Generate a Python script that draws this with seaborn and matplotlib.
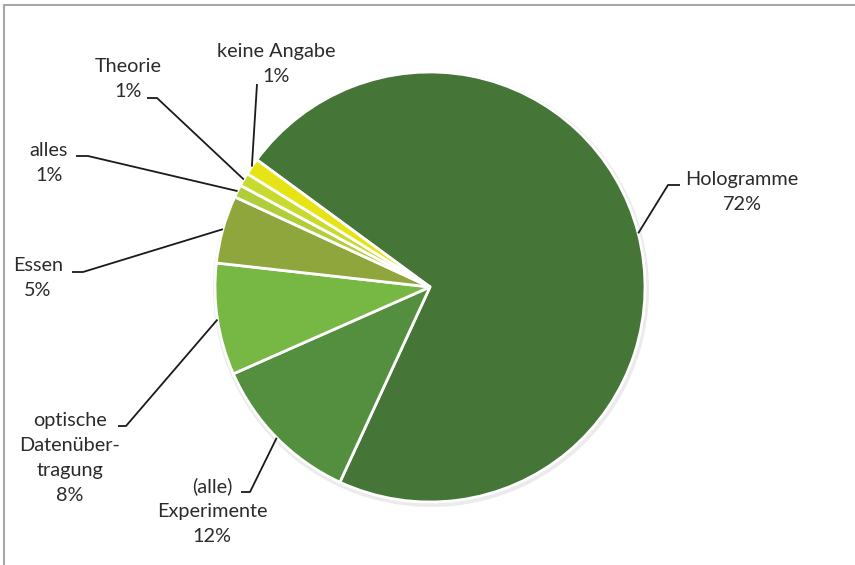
import numpy as np
import matplotlib.pyplot as plt
import seaborn as sns
from matplotlib.lines import Line2D
from matplotlib.patches import Circle

# Data (shares in percent, clockwise from Hologramme)
categories = ["Hologramme", "(alle)\nExperimente", "optische\nDatenüber-\ntragung",
              "Essen", "alles", "Theorie", "keine Angabe"]
shares = [71.8, 11.5, 8.4, 5.1, 0.95, 1.0, 1.25]
colors = ["#467538", "#548f3f", "#76b843", "#8ea63c", "#b2cd3a", "#c8da2e", "#e6e414"]

sns.set_theme(style="white")
plt.rcParams["font.family"] = ["Lato", "DejaVu Sans"]

W, H = 855, 565
CX, CY, R = 430, 287, 215  # pie centre / radius in pixels (y from top)

fig = plt.figure(figsize=(W / 100, H / 100), dpi=100)
ax = fig.add_axes([0, 0, 1, 1])

# soft halo behind the pie
ax.add_patch(Circle((CX + 1, H - CY - 2), R + 3, color="black", alpha=0.08, lw=0, zorder=0))

wedges, _ = ax.pie(shares, colors=colors, startangle=143.7, counterclock=False,
                   center=(CX, H - CY), radius=R,
                   wedgeprops=dict(edgecolor="white", linewidth=2))
ax.set_xlim(0, W)
ax.set_ylim(0, H)
ax.set_aspect("equal")
ax.axis("off")

# label layout in pixels (y from top): text centre, elbow, end of horizontal tick
layout = [
    ((742, 192), (668, 185), (680, 185)),
    ((212, 511), (250, 492), (241, 492)),
    ((70, 458), (126, 426), (118, 426)),
    ((38, 278), (83, 272), (72, 272)),
    ((49, 163), (88, 156), (76, 156)),
    ((128, 79), (157, 98), (147, 98)),
    ((276, 64), (257, 84), None),
]

for w, cat, val, (txt, elbow, end) in zip(wedges, categories, shares, layout):
    mid = np.deg2rad((w.theta1 + w.theta2) / 2)
    ax0 = CX + R * np.cos(mid)
    ay0 = (H - CY) + R * np.sin(mid)
    xs = [ax0, elbow[0]]
    ys = [ay0, H - elbow[1]]
    if end is not None:
        xs.append(end[0])
        ys.append(H - end[1])
    ax.plot(xs, ys, color="#1a1a1a", lw=1.3, solid_capstyle="butt", zorder=3)
    ax.text(txt[0], H - txt[1], f"{cat}\n{val:.0f}%", ha="center", va="center",
            multialignment="center", fontsize=14.3, color="#2b2b2b", linespacing=1.55)

# grey frame on top and left edges
fig.add_artist(Line2D([4 / W, 1], [1 - 5 / H, 1 - 5 / H], color="#a6a6a6", lw=1.5))
fig.add_artist(Line2D([4 / W, 4 / W], [0, 1 - 5 / H], color="#a6a6a6", lw=1.5))

plt.savefig("out.png", dpi=100)
